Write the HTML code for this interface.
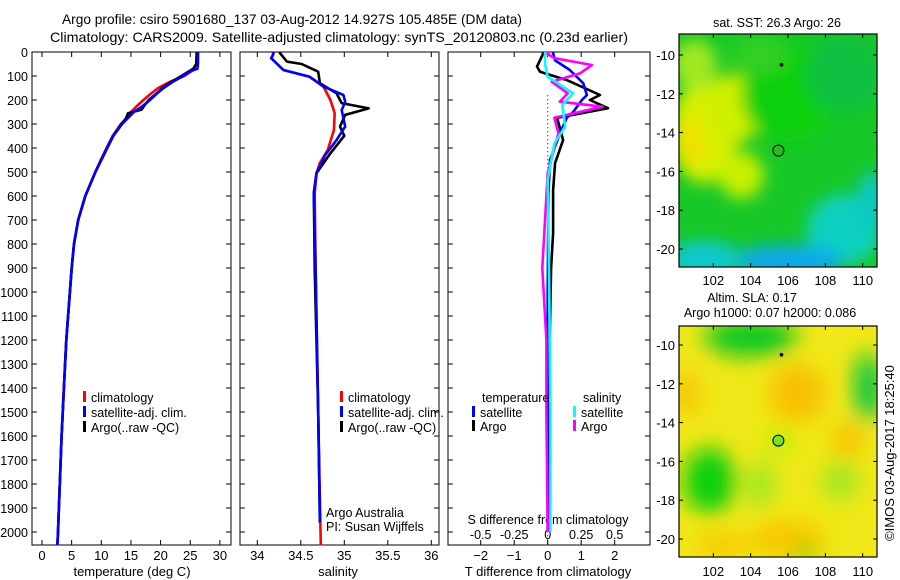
<!DOCTYPE html>
<html><head><meta charset="utf-8">
<style>
html,body{margin:0;padding:0;background:#fff;}
svg{display:block;font-family:"Liberation Sans",sans-serif;}
text{fill:#000;}
</style></head>
<body>
<svg id="fig" width="900" height="580" viewBox="0 0 900 580" xmlns="http://www.w3.org/2000/svg">
<defs>
<filter id="blur1" x="-20%" y="-20%" width="140%" height="140%"><feGaussianBlur stdDeviation="8"/></filter>
<filter id="blur2" x="-20%" y="-20%" width="140%" height="140%"><feGaussianBlur stdDeviation="11"/></filter>
<clipPath id="clipMap1"><rect x="679" y="34" width="198" height="233"/></clipPath>
<clipPath id="clipMap2"><rect x="679" y="326" width="198" height="231"/></clipPath>
</defs>
<text x="62" y="24" font-size="14" textLength="460" lengthAdjust="spacingAndGlyphs">Argo profile: csiro 5901680_137 03-Aug-2012 14.927S 105.485E (DM data)</text>
<text x="50" y="42" font-size="14" textLength="578" lengthAdjust="spacingAndGlyphs">Climatology: CARS2009. Satellite-adjusted climatology: synTS_20120803.nc (0.23d earlier)</text>
<g id="panels"></g>
<g id="maps"></g>
<text transform="translate(894,453) rotate(-90)" font-size="13" text-anchor="middle">©IMOS 03-Aug-2017 18:25:40</text>
</svg>
<script>
// ---- data ----
const depthTicks = [0,100,200,300,400,500,600,700,800,900,1000,1100,1200,1300,1400,1500,1600,1700,1800,1900,2000];
const tempTicks = [0,5,10,15,20,25,30];
const salTicks = [34,34.5,35,35.5,36];
const dTTicks = [-2,-1,0,1,2];
const dSTicks = [-0.5,-0.25,0,0.25,0.5];
const dSTickLabels = ["-0.5","-0.25","0","0.25","0.5"];

const tClimDepth = [0,50,75,100,125,150,175,200,225,250,275,300,350,400,450,500,600,700,800,900,1000,1200,1400,1600,1800,2000,2055];
const tClim      = [26.2,26.0,25.5,24.0,21.5,19.6,18.3,17.1,16.0,15.0,14.3,13.3,11.9,10.9,9.9,9.0,7.3,6.1,5.4,5.0,4.7,4.1,3.7,3.3,3.0,2.7,2.6];
const tSatDepth  = [0,50,70,80,100,125,150,175,200,225,250,275,300,350,400,450,500,600,700,800,900,1000,1200,1400,1600,1800,2000,2055];
const tSat       = [26.3,26.3,26.2,25.0,23.8,22.0,20.5,19.3,18.2,17.0,15.5,14.5,13.5,12.0,11.0,10.0,9.0,7.3,6.1,5.4,5.0,4.7,4.1,3.7,3.3,3.0,2.7,2.6];
const tArgoDepth = [0,50,70,80,100,125,150,175,200,225,240,255,275,300,350,400,450,500,600,700,800,900,1000,1200,1400,1600,1800,2000,2055];
const tArgo      = [26.1,26.0,25.5,24.8,23.5,21.8,20.3,19.2,18.0,17.2,16.8,14.5,14.2,13.4,12.0,11.0,10.0,9.0,7.3,6.1,5.4,5.0,4.7,4.1,3.7,3.3,3.0,2.7,2.6];

const sClimDepth = [0,12,26,75,103,144,158,200,255,325,408,462,505,588,900,1500,2055];
const sClim      = [34.18,34.18,34.16,34.3,34.6,34.76,34.78,34.84,34.89,34.88,34.81,34.72,34.68,34.66,34.67,34.70,34.73];
const sSatDepth  = [0,12,26,75,103,144,179,207,242,311,367,429,505,588,900,1500,1960];
const sSat       = [34.19,34.18,34.16,34.3,34.6,34.76,34.99,35.01,34.97,35.01,34.91,34.78,34.68,34.65,34.67,34.70,34.72];
const sArgoDepth = [0,4,40,50,82,130,172,213,235,262,311,349,422,505,588,900,1500,1960];
const sArgo      = [34.26,34.26,34.34,34.51,34.7,34.72,34.91,34.97,35.28,35.01,34.95,35.0,34.84,34.68,34.65,34.66,34.70,34.72];

const dTSatDepth  = [0,5,35,75,130,179,200,250,274,338,450,600,1000,1500,2000];
const dTSat       = [0.16,0.16,0.22,0.66,1.06,1.17,1.02,0.76,0.57,0.37,0.07,0.02,0.0,0.0,0.0];
const dTArgoDepth = [0,8,61,82,117,179,200,234,274,367,462,575,755,900,1200,1500,2000];
const dTArgo      = [-0.14,-0.14,-0.32,-0.23,0.57,1.56,1.26,1.8,0.28,0.46,0.22,0.16,0.16,0.1,0.06,0.04,0.03];
const dSSatDepth  = [0,4,50,103,172,221,311,380,533,900,1500,2000];
const dSSat       = [-0.02,-0.02,-0.02,0.0,0.19,0.11,0.13,0.05,0.0,0.01,0.02,0.02];
const dSArgoDepth = [0,8,26,54,89,124,172,207,228,274,338,505,900,1200,1500,2000];
const dSArgo      = [0.0,0.0,0.05,0.33,0.24,0.03,0.15,0.09,0.41,0.05,0.08,0.0,-0.04,-0.01,-0.01,0.0];

const lonTicks = [102,104,106,108,110];
const latTicks = [-10,-12,-14,-16,-18,-20];
const profileLon = 105.485, profileLat = -14.927;
const prevLon = 105.65, prevLat = -10.5;

// ---- helpers ----
const NS = "http://www.w3.org/2000/svg";
function mk(tag, attrs, parent){ const e=document.createElementNS(NS,tag); for(const k in attrs) e.setAttribute(k,attrs[k]); parent.appendChild(e); return e; }
const Y0 = 52, YPX = 0.24;
const yD = d => Y0 + d*YPX;
const panelsG = document.getElementById('panels');
const mapsG = document.getElementById('maps');

const panels = [
  {name:'temperature', x0:32, x1:231, xf: v => 42 + v*5.93},
  {name:'salinity', x0:240, x1:439, xf: v => 257.3 + (v-34)*87},
  {name:'difference', x0:448, x1:650, xf: v => 547.7 + v*33.5, xs: v => 547.7 + v*134}
];
const YB = 545;

function axisBox(p){
  const r = mk('rect',{x:p.x0,y:Y0,width:p.x1-p.x0,height:YB-Y0,fill:'none',stroke:'#000','stroke-width':1},panelsG);
  
  
  depthTicks.forEach(d=>{
    const y=yD(d);
    mk('line',{x1:p.x0,y1:y,x2:p.x0+5,y2:y,stroke:'#000'},panelsG);
    mk('line',{x1:p.x1,y1:y,x2:p.x1-5,y2:y,stroke:'#000'},panelsG);
  });
}
function profile(xs, ds, color, name, xf, w){
  const pts = xs.map((v,i)=> xf(v).toFixed(1)+','+yD(ds[i]).toFixed(1)).join(' ');
  const pl = mk('polyline',{points:pts,fill:'none',stroke:color,'stroke-width':w||2.6,'stroke-linejoin':'round'},panelsG);
  
  
}
function txt(x,y,s,size,anchor,name){
  const t = mk('text',{x:x,y:y,'font-size':size,'text-anchor':anchor||'start'},panelsG);
  t.textContent = s;
  
  
  return t;
}

panels.forEach(axisBox);
depthTicks.forEach(d=>{ txt(28, yD(d)+5, String(d), 12.5, 'end', 'depth-tick-label'); });

// temperature panel
const P1 = panels[0];
tempTicks.forEach(v=>{ const x=P1.xf(v); mk('line',{x1:x,y1:YB,x2:x,y2:YB-5,stroke:'#000'},panelsG); mk('line',{x1:x,y1:Y0,x2:x,y2:Y0+5,stroke:'#000'},panelsG); txt(x,560,String(v),13,'middle','temperature-tick-label'); });
txt(132,576,'temperature (deg C)',13,'middle','temperature-axis-title');
profile(tClim,tClimDepth,'#ff0000','temp-climatology-line',P1.xf);
profile(tArgo,tArgoDepth,'#000000','temp-argo-line',P1.xf);
profile(tSat,tSatDepth,'#0000ff','temp-satellite-line',P1.xf);

// salinity panel
const P2 = panels[1];
salTicks.forEach(v=>{ const x=P2.xf(v); mk('line',{x1:x,y1:YB,x2:x,y2:YB-5,stroke:'#000'},panelsG); mk('line',{x1:x,y1:Y0,x2:x,y2:Y0+5,stroke:'#000'},panelsG); txt(x,560,String(v),13,'middle','salinity-tick-label'); });
txt(338,576,'salinity',13,'middle','salinity-axis-title');
profile(sClim,sClimDepth,'#ff0000','sal-climatology-line',P2.xf);
profile(sArgo,sArgoDepth,'#000000','sal-argo-line',P2.xf);
profile(sSat,sSatDepth,'#0000ff','sal-satellite-line',P2.xf);
txt(326,517,'Argo Australia',12.5,'start','credit-argo-australia');
txt(326,531,'PI: Susan Wijffels',12.5,'start','credit-pi');

// difference panel
const P3 = panels[2];
dTTicks.forEach(v=>{ const x=P3.xf(v); mk('line',{x1:x,y1:YB,x2:x,y2:YB-5,stroke:'#000'},panelsG); txt(x,560,String(v).replace('-','\u2212'),13,'middle','dT-tick-label'); });
dSTicks.forEach((v,i)=>{ const x=P3.xs(v); mk('line',{x1:x,y1:Y0,x2:x,y2:Y0+5,stroke:'#000'},panelsG); txt(x,539,dSTickLabels[i],12.5,'middle','dS-tick-label'); });
txt(548,576,'T difference from climatology',13,'middle','dT-axis-title');
txt(548,524,'S difference from climatology',12.5,'middle','dS-axis-title');
mk('line',{x1:547.7,y1:yD(180),x2:547.7,y2:yD(2050),stroke:'#000','stroke-dasharray':'1,3'},panelsG);
profile(dTArgo,dTArgoDepth,'#000000','dT-argo-line',P3.xf);
profile(dTSat,dTSatDepth,'#0000ff','dT-satellite-line',P3.xf);
profile(dSArgo,dSArgoDepth,'#ff00ff','dS-argo-line',P3.xs);
profile(dSSat,dSSatDepth,'#00ffff','dS-satellite-line',P3.xs);

// legends
function legend(x,y,color,label,name){
  const m = mk('rect',{x:x-1,y:y-6,width:3,height:11,fill:color},panelsG);
  
  
  txt(x+7,y+5,label,12.5,'start',name+'-label');
}
legend(84,397,'#ff0000','climatology','legend-temp-climatology');
legend(84,412,'#0000ff','satellite-adj. clim.','legend-temp-satellite');
legend(84,427,'#000000','Argo(..raw -QC)','legend-temp-argo');
legend(341,397,'#ff0000','climatology','legend-sal-climatology');
legend(341,412,'#0000ff','satellite-adj. clim.','legend-sal-satellite');
legend(341,427,'#000000','Argo(..raw -QC)','legend-sal-argo');
txt(482,402,'temperature',12.5,'start','legend-diff-temperature-heading');
txt(583,402,'salinity',12.5,'start','legend-diff-salinity-heading');
legend(473,412,'#0000ff','satellite','legend-dT-satellite');
legend(473,426,'#000000','Argo','legend-dT-argo');
legend(574,412,'#00ffff','satellite','legend-dS-satellite');
legend(574,426,'#ff00ff','Argo','legend-dS-argo');

// ---- maps ----
function mapPanel(top, bottom, lat10y, lat20y, name, blobs, base, filt, clip, titleLines, lonLabelY){
  const lonX = lon => 713.3 + (lon-102)*18.675;
  const latY = lat => lat10y + (lat+10)*(lat20y-lat10y)/(-10);
  const g = mk('g',{'clip-path':'url(#'+clip+')'},mapsG);
  
  
  mk('rect',{x:679,y:top,width:198,height:bottom-top,fill:base},g);
  const bg = mk('g',{filter:'url(#'+filt+')'},g);
  blobs.forEach(b=>{ mk('ellipse',{cx:lonX(b[0]),cy:latY(b[1]),rx:b[2]*18.7,ry:b[3]*19.4,fill:b[4]},bg); });
  const fr = mk('rect',{x:679,y:top,width:198,height:bottom-top,fill:'none',stroke:'#000','stroke-width':1.2},mapsG);
  
  
  lonTicks.forEach(l=>{ const x=lonX(l); mk('line',{x1:x,y1:bottom,x2:x,y2:bottom-4,stroke:'#000'},mapsG); mk('line',{x1:x,y1:top,x2:x,y2:top+4,stroke:'#000'},mapsG);
    const t=mk('text',{x:x,y:lonLabelY,'font-size':13,'text-anchor':'middle'},mapsG); t.textContent=String(l);
      });
  latTicks.forEach(l=>{ const y=latY(l); mk('line',{x1:679,y1:y,x2:683,y2:y,stroke:'#000'},mapsG); mk('line',{x1:877,y1:y,x2:873,y2:y,stroke:'#000'},mapsG);
    const t=mk('text',{x:675,y:y+5,'font-size':13,'text-anchor':'end'},mapsG); t.textContent=String(l);
      });
  const c = mk('circle',{cx:lonX(profileLon),cy:latY(profileLat),r:5.5,fill:name==='sla-map'?'#80e020':'#20c020',stroke:'#000','stroke-width':1},mapsG);
  
  
  const p = mk('circle',{cx:lonX(prevLon),cy:latY(prevLat),r:1.8,fill:'#000'},mapsG);
  
  
  titleLines.forEach((tl,i)=>{ const t=mk('text',{x:tl[1],y:tl[2],'font-size':12.5,'text-anchor':'middle'},mapsG); t.textContent=tl[0];
      });
}
const sstBlobs = [
  [101.5,-14,1.8,2.6,'#d8f000'],[103,-12.8,1.6,1.8,'#d0f000'],[103.5,-16.2,1.2,1.2,'#c8f000'],[101,-10.5,1.2,1.3,'#a0e820'],
  [100.8,-14.5,0.8,1.2,'#f0e000'],[106,-12,2.5,2.5,'#10d010'],[104.5,-10,1.5,1,'#30d020'],
  [109,-19,2,1.8,'#10d0c0'],[106,-20.6,3,0.8,'#10a8f0'],[101.5,-20.5,2,0.9,'#10c8d0'],[110.5,-17.5,0.8,1.5,'#10c8c0'],[109,-11,2,2,'#10c040']
];
const slaBlobs = [
  [104,-9.6,2.5,1.0,'#10c820'],[110.3,-12.2,0.8,1.8,'#10c840'],[101.8,-17,1.4,1.7,'#10d010'],[106.5,-12.5,1.5,1.5,'#f8c000'],
  [109.2,-14.9,0.8,0.9,'#f8c000'],[100.6,-12.5,0.6,1.2,'#f8c000'],[104.5,-17.2,0.8,1.2,'#a0e820'],[108.8,-17,1.0,1.0,'#a0e820'],
  [106,-20,2,1,'#f8c800'],[102.5,-20.3,1.5,0.6,'#f8c800'],[106.9,-20.8,0.6,0.4,'#10d010'],[105.5,-15,0.7,0.6,'#b0f010']
];
mapPanel(34,267,55,249,'sst-map',sstBlobs,'#18c828','blur1','clipMap1',[['sat. SST: 26.3 Argo: 26',777,27]],285);
mapPanel(326,557,345,539,'sla-map',slaBlobs,'#f0e818','blur2','clipMap2',[['Altim. SLA: 0.17',752,302],['Argo h1000: 0.07 h2000: 0.086',770,317]],576);
</script>
</body></html>
